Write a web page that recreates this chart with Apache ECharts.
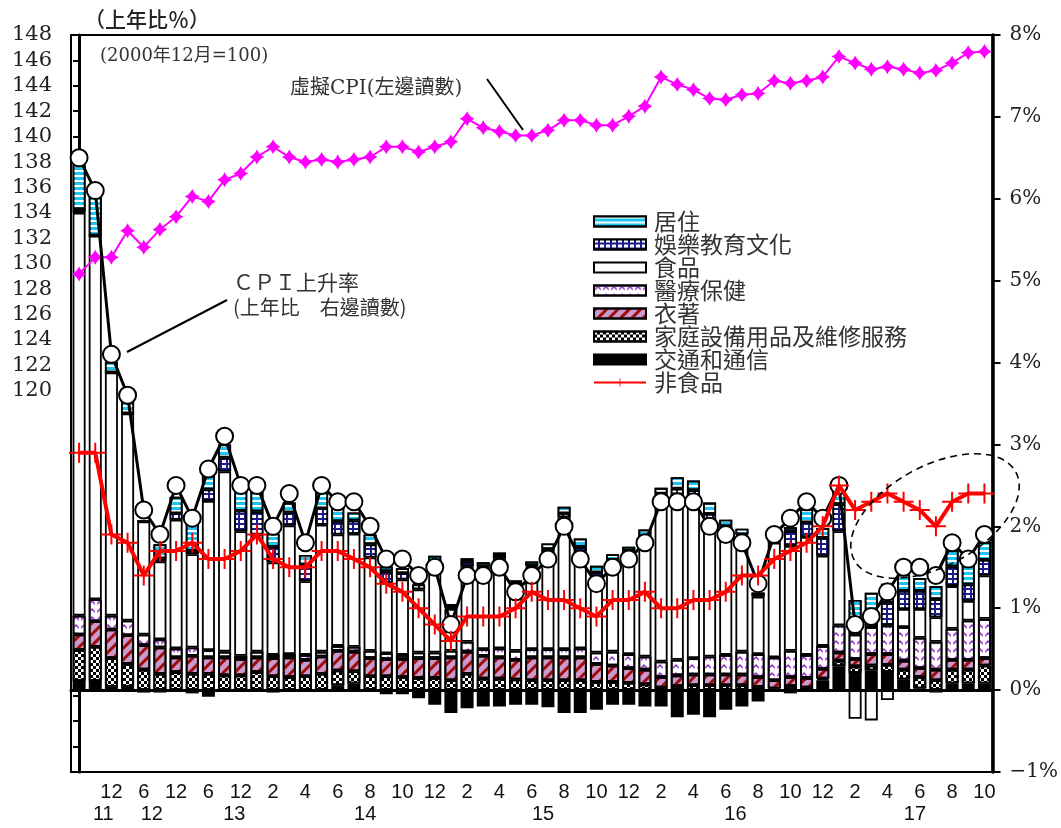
<!DOCTYPE html>
<html>
<head>
<meta charset="utf-8">
<script src="https://cdn.jsdelivr.net/npm/echarts@6/dist/echarts.min.js"></script>
<style>html,body{margin:0;padding:0;background:#fff}#c{width:1061px;height:828px}</style>
</head>
<body>
<div id="c"></div>
<script>
// ---------- data ----------
const categories = [
  '2011-06','2011-09','2011-12','2012-03','2012-06','2012-09','2012-12','2013-03','2013-06','2013-09','2013-12',
  '2014-01','2014-02','2014-03','2014-04','2014-05','2014-06','2014-07','2014-08','2014-09','2014-10','2014-11','2014-12',
  '2015-01','2015-02','2015-03','2015-04','2015-05','2015-06','2015-07','2015-08','2015-09','2015-10','2015-11','2015-12',
  '2016-01','2016-02','2016-03','2016-04','2016-05','2016-06','2016-07','2016-08','2016-09','2016-10','2016-11','2016-12',
  '2017-01','2017-02','2017-03','2017-04','2017-05','2017-06','2017-07','2017-08','2017-09','2017-10'
];

// CPI 上升率 (%)
const cpiRate = [6.5,6.1,4.1,3.6,2.2,1.9,2.5,2.1,2.7,3.1,2.5,
  2.5,2.0,2.4,1.8,2.5,2.3,2.3,2.0,1.6,1.6,1.4,1.5,
  0.8,1.4,1.4,1.5,1.2,1.4,1.6,2.0,1.6,1.3,1.5,1.6,
  1.8,2.3,2.3,2.3,2.0,1.9,1.8,1.3,1.9,2.1,2.3,2.1,
  2.5,0.8,0.9,1.2,1.5,1.5,1.4,1.8,1.6,1.9];

// 非食品 (%)
const nonFood = [2.9,2.9,1.9,1.8,1.4,1.7,1.7,1.8,1.6,1.6,1.7,
  1.9,1.6,1.5,1.5,1.7,1.7,1.6,1.5,1.3,1.2,1.0,0.8,
  0.6,0.9,0.9,0.9,1.0,1.2,1.1,1.1,1.0,0.9,1.1,1.1,
  1.2,1.0,1.0,1.1,1.1,1.2,1.4,1.4,1.6,1.7,1.8,2.0,
  2.5,2.2,2.3,2.4,2.3,2.2,2.0,2.3,2.4,2.4];

// 虛擬CPI (2000年12月=100)
const virtualCpi = [129.2,130.5,130.5,132.6,131.3,132.7,133.7,135.3,134.9,136.6,137.1,
  138.4,139.2,138.4,138.0,138.2,138.0,138.2,138.4,139.2,139.2,138.8,139.2,
  139.6,141.4,140.7,140.4,140.1,140.1,140.5,141.3,141.3,140.9,140.9,141.6,
  142.4,144.7,144.1,143.7,143.0,142.9,143.3,143.4,144.4,144.2,144.4,144.7,
  146.3,145.8,145.3,145.5,145.3,145.0,145.2,145.8,146.6,146.7];

// contributions (percentage points)
const transport = [0.11,0.11,0.04,0.04,-0.03,-0.03,0,-0.04,-0.08,0,0,
  0,-0.03,0,-0.02,-0.02,0.06,0.08,0,-0.05,-0.05,-0.1,-0.18,
  -0.28,-0.22,-0.2,-0.2,-0.18,-0.18,-0.21,-0.28,-0.28,-0.24,-0.18,-0.18,
  -0.2,-0.2,-0.33,-0.3,-0.33,-0.24,-0.2,-0.14,-0.01,-0.04,0,0.12,
  0.29,0.21,0.24,0.22,0.13,0.02,-0.03,0.08,0.08,0.08];
const household = [0.38,0.42,0.35,0.28,0.25,0.2,0.22,0.2,0.2,0.18,0.18,
  0.22,0.17,0.16,0.17,0.2,0.18,0.15,0.17,0.17,0.16,0.15,0.15,
  0.12,0.2,0.14,0.14,0.13,0.12,0.12,0.12,0.12,0.1,0.1,0.09,
  0.07,0.03,0.05,0.06,0.06,0.06,0.06,0.04,0.02,0.05,0.03,0.02,
  0.07,0.08,0.06,0.09,0.12,0.14,0.12,0.17,0.17,0.22];
const clothing = [0.19,0.31,0.35,0.35,0.3,0.32,0.18,0.22,0.2,0.22,0.2,
  0.18,0.22,0.24,0.2,0.21,0.24,0.24,0.22,0.21,0.22,0.24,0.24,
  0.28,0.27,0.28,0.26,0.24,0.28,0.28,0.28,0.28,0.22,0.2,0.18,
  0.18,0.13,0.13,0.13,0.13,0.13,0.13,0.12,0.1,0.11,0.12,0.12,
  0.1,0.09,0.14,0.13,0.11,0.11,0.13,0.12,0.12,0.09];
const medical = [0.23,0.27,0.17,0.18,0.13,0.1,0.11,0.1,0.09,0.07,0.04,
  0.07,0.04,0.04,0.06,0.06,0.06,0.06,0.09,0.07,0.05,0.07,0.07,
  0.08,0.12,0.08,0.11,0.11,0.1,0.1,0.1,0.11,0.14,0.17,0.17,
  0.16,0.19,0.19,0.2,0.22,0.24,0.28,0.28,0.28,0.32,0.28,0.28,
  0.33,0.3,0.33,0.35,0.41,0.37,0.34,0.38,0.48,0.48];
const food = [4.92,4.44,2.97,2.53,1.38,0.95,1.57,1.14,1.82,2.2,1.52,
  1.43,1.13,1.57,0.9,1.55,1.36,1.38,1.14,0.86,0.92,0.77,1.08,
  0.51,0.92,1.0,1.1,0.78,1.0,1.16,1.61,1.18,0.92,1.09,1.23,
  1.44,2.01,2.02,1.98,1.66,1.53,1.41,0.7,1.4,1.28,1.44,1.1,
  1.15,-0.35,-0.37,-0.12,0.22,0.35,0.3,0.52,0.24,0.53];
const recreation = [0.04,0,0,0,0,0.04,0.08,0.04,0.14,0.17,0.25,
  0.28,0.19,0.16,0.2,0.2,0.16,0.16,0.16,0.14,0.08,0.06,0.02,
  0.02,0.06,0.01,0.04,0.05,0.02,0.06,0.05,0.06,0.06,0.03,0.03,
  0.02,0.04,0.07,0.07,0.08,0.04,0.02,0.04,0.08,0.18,0.18,0.22,
  0.33,0.2,0.05,0.28,0.22,0.22,0.22,0.24,0.2,0.19];
const housing = [0.55,0.51,0.13,0.16,0,0.17,0.2,0.33,0.33,0.16,0.26,
  0.24,0.16,0.12,0.12,0.2,0.18,0.1,0.12,0.06,0.06,0.02,0.08,
  0.04,0.04,0.05,0.03,0.03,0.05,0.07,0.08,0.1,0.08,0.07,0.05,
  0.09,0.07,0.14,0.12,0.14,0.08,0.07,0,0.04,0.05,0.16,0.12,
  0.15,0.22,0.37,0.23,0.2,0.16,0.16,0.2,0.26,0.22];

// layout of the year labels (category-index coordinates)
const yearLabelPos = [1.5, 4.5, 9.6, 17.7, 28.7, 40.6, 51.7];

// ---------- chart ----------
const chart = echarts.init(document.getElementById('c'), null, {renderer:'canvas'});
const serif = "'DejaVu Serif','Noto Sans CJK TC'";
const cjk = "'Noto Sans CJK TC'";

const barBase = {type:'bar', stack:'contrib', xAxisIndex:0, yAxisIndex:1, barWidth:13};
const border = {borderColor:'#000', borderWidth:1.8};

const legendItem = (name) => ({name, icon:'rect', itemStyle:{borderColor:'#000', borderWidth:2}});

const option = {
  animation:false,
  grid:{left:71, right:62, top:35, bottom:56, show:true, borderColor:'#000', borderWidth:2, backgroundColor:'transparent'},
  legend:{
    orient:'vertical', left:588, top:205, itemWidth:52, itemHeight:10, itemGap:0,
    selectedMode:false,
    textStyle:{fontSize:23, lineHeight:23, fontFamily:cjk, color:'#333', padding:[0,0,0,3]},
    data:[legendItem('居住'), legendItem('娛樂教育文化'), legendItem('食品'), legendItem('醫療保健'),
          legendItem('衣著'), legendItem('家庭設備用品及維修服務'), legendItem('交通和通信'), {name:'非食品'}]
  },
  xAxis:[
    {type:'category', data:categories, position:'bottom',
     axisLine:{lineStyle:{color:'#000', width:3}}, axisTick:{show:false},
     axisLabel:{interval:(i)=> i>=2 && i%2===0, formatter:(v)=> String(parseInt(v.split('-')[1],10)),
                fontSize:20, fontFamily:"'Liberation Sans'", color:'#111', margin:10}},
    {type:'value', position:'bottom', min:-0.5, max:categories.length-0.5,
     axisLine:{show:false}, axisTick:{show:false}, splitLine:{show:false},
     axisLabel:{customValues:yearLabelPos, formatter:(v)=> categories[Math.round(v)].slice(2,4),
                fontSize:20, fontFamily:"'Liberation Sans'", color:'#111', margin:32}}
  ],
  yAxis:[
    {type:'value', position:'left', min:90, max:148, interval:2,
     axisLine:{show:true, lineStyle:{color:'#000', width:3}},
     axisTick:{show:true, length:6, lineStyle:{color:'#000', width:2}},
     axisLabel:{formatter:(v)=> v>=120 ? String(v) : '', fontSize:21, fontFamily:serif, color:'#222', margin:19},
     splitLine:{show:false}},
    {type:'value', position:'right', min:-1, max:8, interval:1,
     axisLine:{show:true, lineStyle:{color:'#000', width:3.5}},
     axisTick:{show:true, length:8, lineStyle:{color:'#000', width:2}},
     axisLabel:{formatter:(v)=> (v<0?'−':'') + Math.abs(v) + '%', fontSize:20, fontFamily:serif, color:'#222', margin:17},
     splitLine:{show:false}}
  ],
  series:[
    {...barBase, name:'交通和通信', data:transport, itemStyle:{color:'#000', ...border}},
    {...barBase, name:'家庭設備用品及維修服務', data:household, itemStyle:{color:'#fff', ...border,
      decal:{symbol:'rect', symbolSize:1, color:'#000', dashArrayX:[[3,3],[0,3,3,0]], dashArrayY:[3,0]}}},
    {...barBase, name:'衣著', data:clothing, itemStyle:{color:'#c99acb', ...border,
      decal:{symbol:'rect', symbolSize:1, color:'#9e0c0c', dashArrayX:[1,0], dashArrayY:[2.5,4.5], rotation:-Math.PI/4}}},
    {...barBase, name:'醫療保健', data:medical, itemStyle:{color:'#fff', ...border,
      decal:{symbol:'path://M0,5 L5,0 L10,5 L10,9 L5,4 L0,9Z', symbolSize:1, color:'#9a35c8', dashArrayX:[8,0], dashArrayY:[5,3]}}},
    {...barBase, name:'食品', data:food, itemStyle:{color:'#fff', ...border}},
    {...barBase, name:'娛樂教育文化', data:recreation, itemStyle:{color:'#1c1c8e', ...border,
      decal:{symbol:'rect', symbolSize:1, color:'#fff', dashArrayX:[4,1.3], dashArrayY:[3,1.3]}}},
    {...barBase, name:'居住', data:housing, itemStyle:{color:'#1ec6ef', ...border,
      decal:{symbol:'rect', symbolSize:1, color:'#fff', dashArrayX:[1,0], dashArrayY:[2,3]}}},
    {name:'虛擬CPI', type:'line', xAxisIndex:0, yAxisIndex:0, data:virtualCpi, z:3, showAllSymbol:true,
     lineStyle:{color:'#ff00ff', width:2}, itemStyle:{color:'#ff00ff'},
     symbol:'path://M10,0 Q13,7 20,10 Q13,13 10,20 Q7,13 0,10 Q7,7 10,0Z', symbolSize:15},
    {name:'CPI上升率', type:'line', xAxisIndex:0, yAxisIndex:1, data:cpiRate, z:4, showAllSymbol:true,
     lineStyle:{color:'#000', width:3}, itemStyle:{color:'#fff', borderColor:'#000', borderWidth:2},
     symbol:'circle', symbolSize:17},
    {name:'非食品', type:'line', xAxisIndex:0, yAxisIndex:1, data:nonFood, z:5, showAllSymbol:true,
     lineStyle:{color:'#ff0000', width:4}, itemStyle:{color:'#ff0000'},
     symbol:'path://M9,0H11V9H20V11H11V20H9V11H0V9H9Z', symbolSize:20}
  ],
  graphic:[
    {type:'text', left:84, top:9, style:{text:'（上年比％）', font:"500 21px 'Noto Sans CJK TC'", fill:'#222'}},
    {type:'text', left:100, top:47, style:{text:'(2000年12月=100)', font:"18px " + serif, fill:'#333'}},
    {type:'text', left:290, top:79, style:{text:'虛擬CPI(左邊讀數)', font:"20px " + serif, fill:'#333'}},
    {type:'line', shape:{x1:487, y1:79, x2:523, y2:130}, style:{stroke:'#000', lineWidth:2}},
    {type:'text', left:233, top:272, style:{text:'ＣＰＩ上升率', font:"21px 'Noto Sans CJK TC'", fill:'#333'}},
    {type:'text', left:233, top:297, style:{text:'(上年比　右邊讀數)', font:"20px 'Noto Sans CJK TC'", fill:'#333'}},
    {type:'line', shape:{x1:127, y1:352, x2:227, y2:300}, style:{stroke:'#000', lineWidth:2}},
    {type:'ellipse', x:935, y:516, rotation:0.5, z:100,
     shape:{cx:0, cy:0, rx:92, ry:50}, style:{fill:'none', stroke:'#000', lineWidth:1.6, lineDash:[7,5]}}
  ]
};
chart.setOption(option);
</script>
</body>
</html>
